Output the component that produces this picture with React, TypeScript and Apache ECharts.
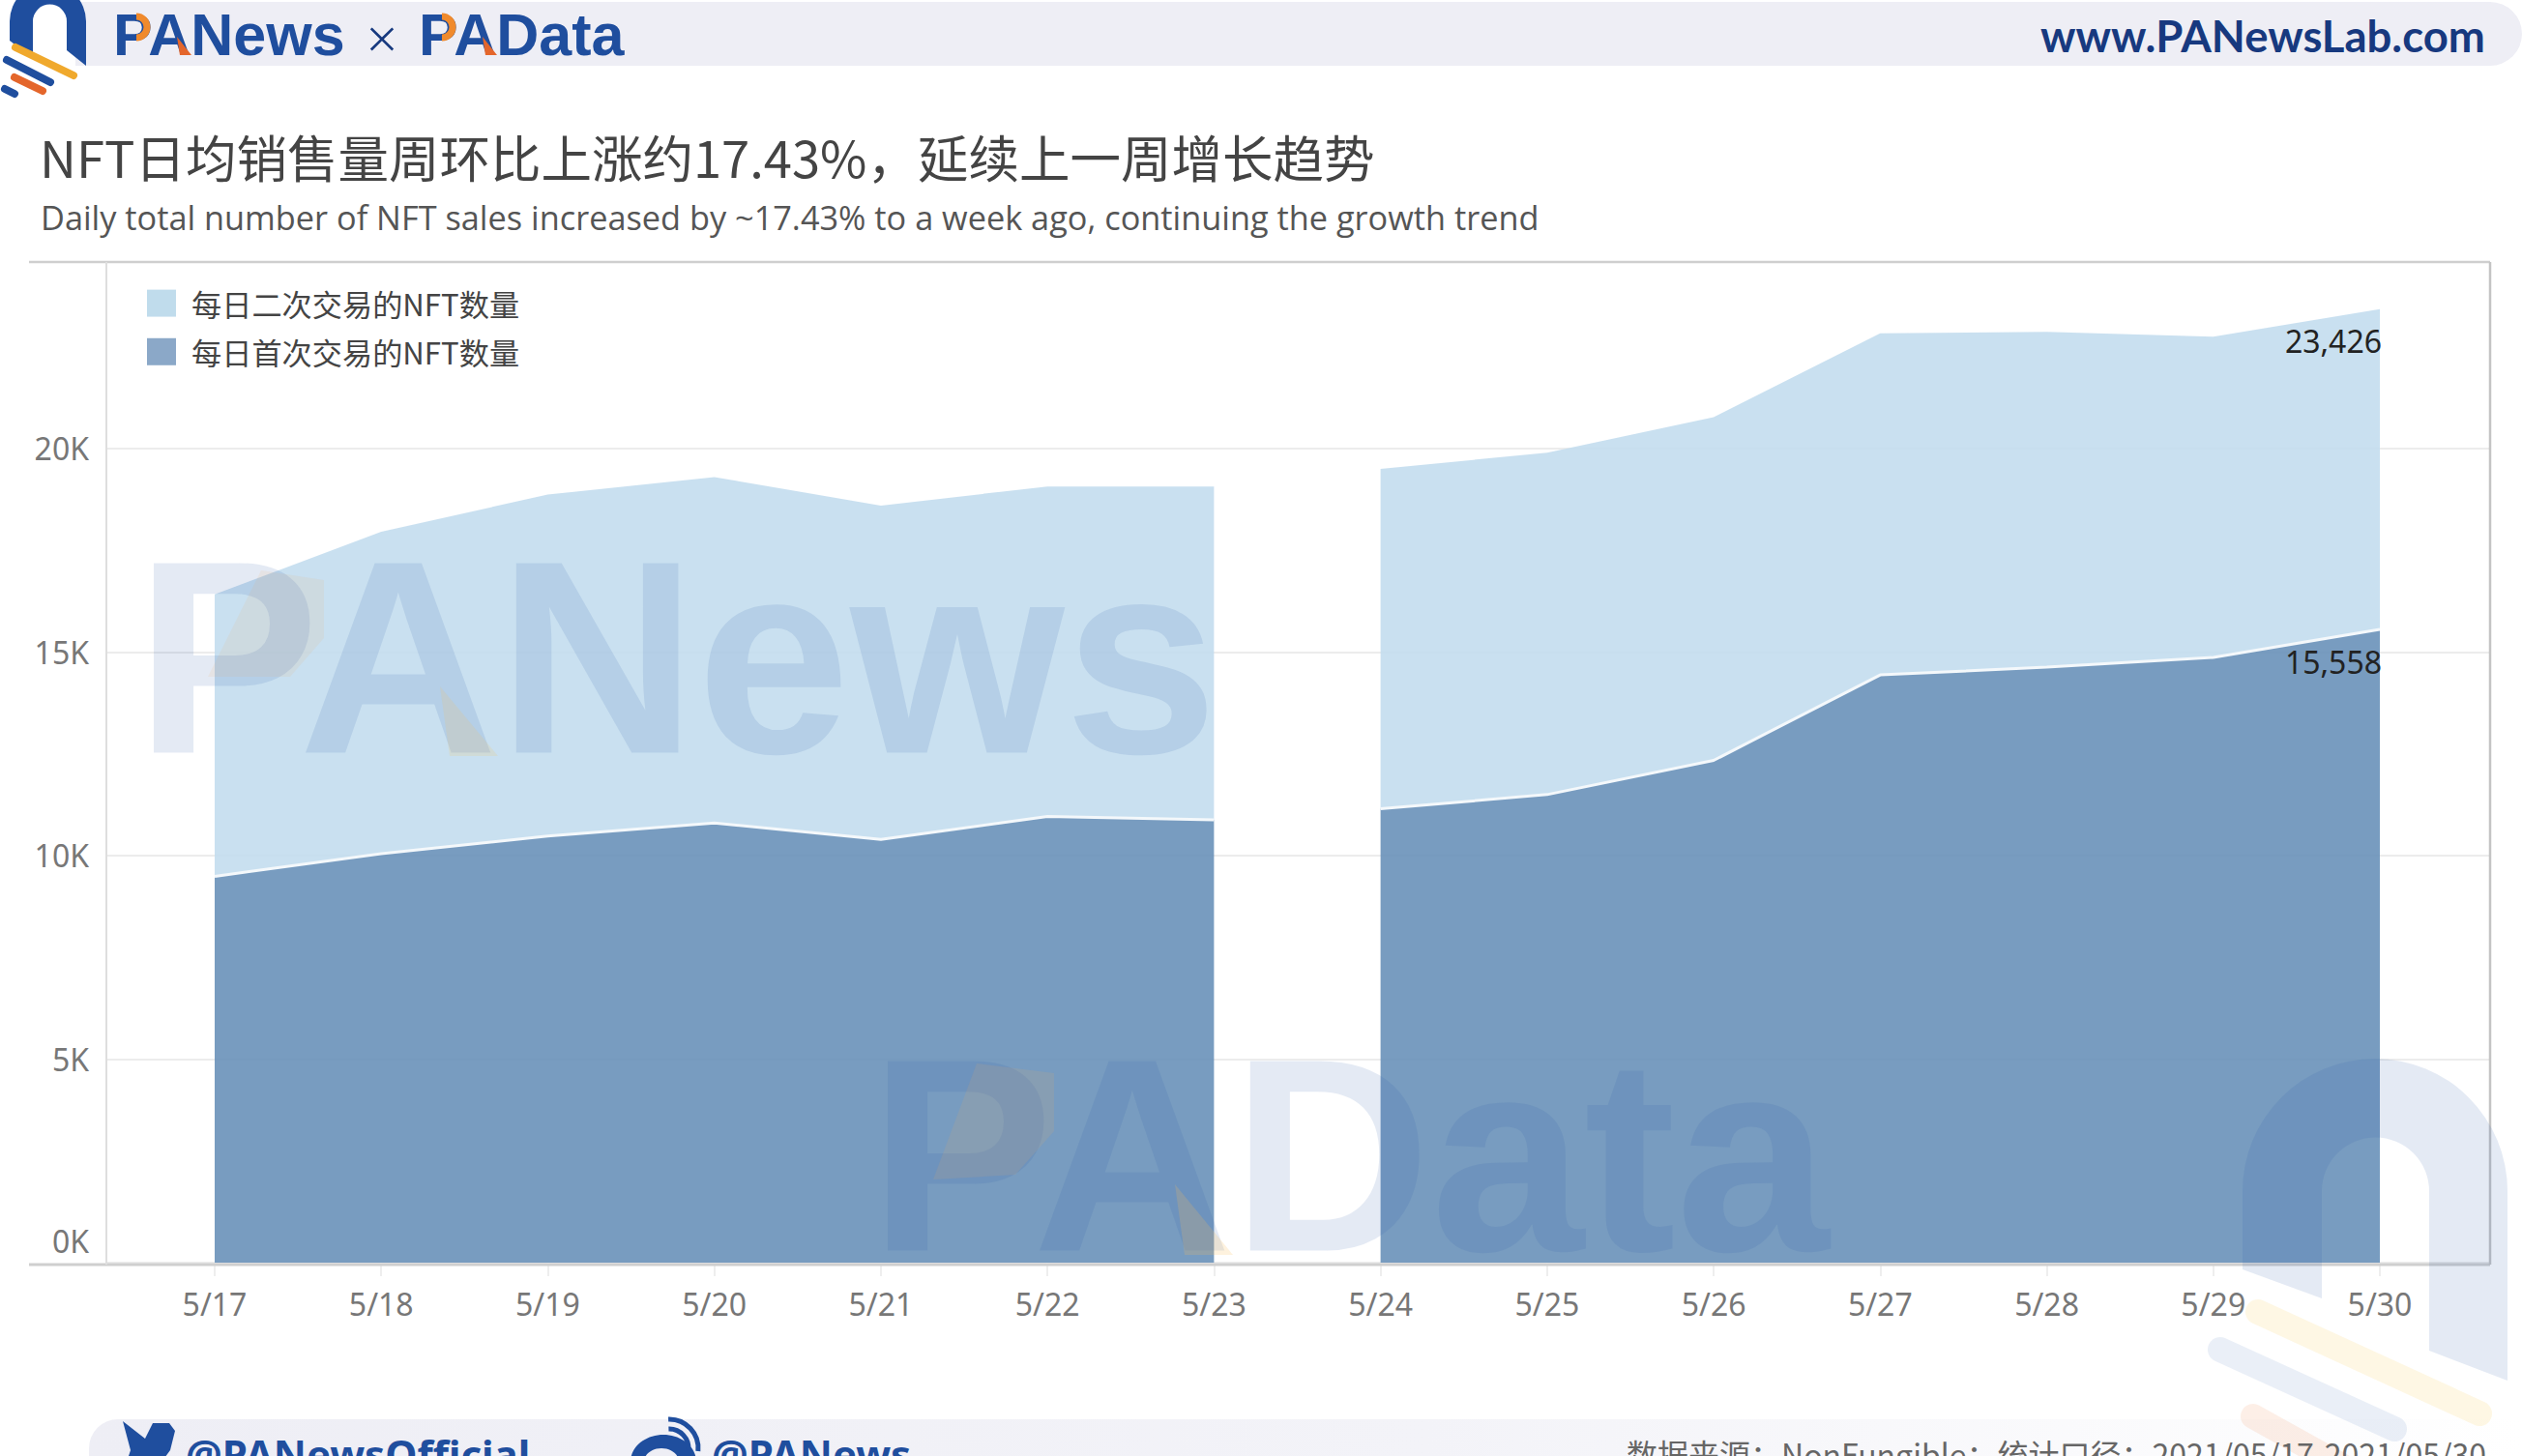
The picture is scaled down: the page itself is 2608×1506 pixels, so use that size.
import React, { useEffect, useRef } from "react";
import * as echarts from "echarts";

const categories = ["5/17","5/18","5/19","5/20","5/21","5/22","5/23","5/24","5/25","5/26","5/27","5/28","5/29","5/30"];
const firstSales = [9490,10050,10480,10800,10400,10960,10880,11150,11500,12340,14440,14630,14870,15558];
const secondSales = [6930,7910,8390,8500,8200,8110,8190,8350,8400,8430,8390,8240,7880,7868];
const yTicks = [0,5000,10000,15000,20000];
const weekOne = [0,1,2,3,4,5,6];
const weekTwo = [7,8,9,10,11,12,13];
const secondName = "每日二次交易的NFT数量";
const firstName = "每日首次交易的NFT数量";
const titleText = "NFT日均销售量周环比上涨约17.43%，延续上一周增长趋势";
const subtitleText = "Daily total number of NFT sales increased by ~17.43% to a week ago, continuing the growth trend";
const sourceText = "数据来源：NonFungible；统计口径：2021/05/17-2021/05/30";

const CJK = '"Noto Sans CJK SC", "Noto Sans", sans-serif';
const SANS = '"Noto Sans", "Noto Sans CJK SC", sans-serif';
const BRAND = "#1f4e9e";
const WM = "rgba(50,90,170,0.13)";
const Y_MAX = 24608;

echarts.graphic.registerShape("archSmall", echarts.graphic.extendShape({
  buildPath(ctx: any) {
    ctx.moveTo(10, 42);
    ctx.lineTo(10, 22);
    ctx.arc(49.5, 22, 39.5, Math.PI, 0, false);
    ctx.lineTo(89, 68);
    ctx.lineTo(69, 52);
    ctx.lineTo(69, 22);
    ctx.arc(51.5, 22, 17.5, 0, Math.PI, true);
    ctx.lineTo(34, 60);
    ctx.closePath();
  },
} as any) as any);

echarts.graphic.registerShape("archBig", echarts.graphic.extendShape({
  buildPath(ctx: any) {
    ctx.moveTo(2319, 1313);
    ctx.lineTo(2319, 1232);
    ctx.arc(2456, 1232, 137, Math.PI, 0, false);
    ctx.lineTo(2593, 1428);
    ctx.lineTo(2512, 1397);
    ctx.lineTo(2512, 1232);
    ctx.arc(2456.5, 1232, 55.5, 0, Math.PI, true);
    ctx.lineTo(2401, 1343);
    ctx.closePath();
  },
} as any) as any);

function stripe(x1: number, y1: number, x2: number, y2: number, w: number, color: string, z = 100) {
  return { type: "line", z, silent: true, shape: { x1, y1, x2, y2 }, style: { stroke: color, lineWidth: w, lineCap: "round" } };
}
function poly(points: number[][], fill: string, z = 101) {
  return { type: "polygon", z, silent: true, shape: { points }, style: { fill } };
}
function text(x: number, y: number, t: string, font: string, fill: string, extra: any = {}) {
  return { type: "text", z: 110, x, y, style: { text: t, font, fill, textVerticalAlign: "middle", ...extra } };
}

function weekSeries(name: string, days: number[], values: number[], color: string, stack: string, extra: any) {
  return {
    type: "line",
    name,
    stack,
    xAxisIndex: 1,
    yAxisIndex: 1,
    symbol: "none",
    showSymbol: false,
    silent: true,
    data: categories.map((_, i) => (days.includes(i) ? values[i] : null)),
    areaStyle: { color, opacity: 0.9 },
    ...extra,
  };
}

const first = "#6991b9";
const second = "#c3ddee";
const noLine = { lineStyle: { width: 0, opacity: 0 } };
const whiteLine = { lineStyle: { width: 3, color: "#f4f8fb" } };
const labelStyle = { color: "#222", fontFamily: SANS, fontSize: 32, align: "right", distance: 0 };

export default function App() {
  const ref = useRef<HTMLDivElement>(null);
  useEffect(() => {
    document.body.style.margin = "0";
    const chart = echarts.init(ref.current!, undefined, { renderer: "svg" });
    const last = categories.length - 1;
    chart.setOption({
      animation: false,
      backgroundColor: "#fff",
      title: [
        { text: titleText, left: 36, top: 130, textStyle: { fontFamily: CJK, fontSize: 52.5, fontWeight: 400, color: "#444" } },
        { text: subtitleText, left: 37, top: 202, textStyle: { fontFamily: '"Open Sans", sans-serif', fontSize: 34.3, fontWeight: 400, color: "#555" } },
      ],
      legend: {
        left: 147, top: 293, orient: "vertical", icon: "rect", itemWidth: 30, itemHeight: 28, itemGap: 19,
        selectedMode: false,
        textStyle: { fontFamily: CJK, fontSize: 31.2, color: "#444", padding: [0, 0, 0, 11] },
        data: [
          { name: secondName, itemStyle: { color: "#c0dcec" } },
          { name: firstName, itemStyle: { color: "#8ba8c8" } },
        ],
      },
      grid: [
        { left: 110, top: 270, width: 2465, height: 1036 },
        { left: 222, top: 270, width: 2239, height: 1036 },
      ],
      xAxis: [
        { gridIndex: 0, type: "value", min: 0, max: 1, show: false },
        {
          gridIndex: 1,
          type: "category",
          boundaryGap: false,
          data: categories,
          splitLine: { show: false },
          axisLine: { show: false },
          axisTick: { show: true, interval: 0, length: 14, lineStyle: { color: "#eeeeee", width: 2 } },
          axisLabel: { interval: 0, margin: 26, fontFamily: SANS, fontSize: 32, color: "#777" },
        },
      ],
      yAxis: [
        {
          gridIndex: 0,
          type: "value",
          min: 0,
          max: Y_MAX,
          axisLine: { show: false },
          axisTick: { show: false, customValues: yTicks },
          axisLabel: {
            customValues: yTicks,
            formatter: (v: number) => `${v / 1000}K`,
            margin: 18,
            fontFamily: SANS,
            fontSize: 32,
            lineHeight: 46,
            color: "#777",
            verticalAlignMinLabel: "bottom",
          },
          splitLine: { show: true, lineStyle: { color: "#ececec", width: 2 } },
        },
        { gridIndex: 1, type: "value", min: 0, max: Y_MAX, show: false, splitLine: { show: false } },
      ],
      series: [
        weekSeries(firstName, weekOne, firstSales, first, "w1", whiteLine),
        weekSeries(secondName, weekOne, secondSales, second, "w1", noLine),
        weekSeries(firstName, weekTwo, firstSales, first, "w2", {
          ...whiteLine,
          endLabel: { show: true, ...labelStyle, offset: [2, 33], formatter: () => firstSales[last].toLocaleString("en-US") },
        }),
        weekSeries(secondName, weekTwo, secondSales, second, "w2", {
          ...noLine,
          endLabel: { show: true, ...labelStyle, offset: [2, 33], formatter: () => (firstSales[last] + secondSales[last]).toLocaleString("en-US") },
        }),
      ],
      graphic: [
        // frame
        { type: "line", z: 50, shape: { x1: 30, y1: 271, x2: 2575, y2: 271 }, style: { stroke: "#cfcfcf", lineWidth: 2.5 } },
        { type: "line", z: 50, shape: { x1: 30, y1: 1308, x2: 2575, y2: 1308 }, style: { stroke: "#cfcfcf", lineWidth: 3 } },
        { type: "line", z: 50, shape: { x1: 110, y1: 271, x2: 110, y2: 1308 }, style: { stroke: "#dedede", lineWidth: 2 } },
        { type: "line", z: 50, shape: { x1: 2575, y1: 271, x2: 2575, y2: 1308 }, style: { stroke: "#c4c4c4", lineWidth: 2.5 } },

        // watermarks
        { type: "text", z: 100, silent: true, x: 140, y: 822, style: { text: "PANews", font: 'bold 285px "Liberation Sans", sans-serif', fill: WM, textVerticalAlign: "bottom" } },
        { type: "text", z: 100, silent: true, x: 899, y: 1337, style: { text: "PAData", font: 'bold 285px "Liberation Sans", sans-serif', fill: WM, textVerticalAlign: "bottom" } },
        poly([[270, 590], [335, 600], [335, 660], [300, 700], [215, 700]], "rgba(250,170,90,0.10)"),
        poly([[455, 710], [515, 782], [465, 782]], "rgba(250,190,90,0.16)"),
        poly([[1010, 1100], [1090, 1110], [1090, 1170], [1050, 1215], [965, 1220]], "rgba(250,170,90,0.12)"),
        poly([[1215, 1225], [1275, 1298], [1225, 1298]], "rgba(250,190,90,0.2)"),
        { type: "archBig", z: 100, silent: true, style: { fill: WM } },
        stripe(2335, 1357, 2564, 1462, 26, "rgba(250,215,120,0.2)"),
        stripe(2296, 1396, 2476, 1478, 26, "rgba(80,120,190,0.12)"),
        stripe(2330, 1465, 2420, 1515, 26, "rgba(240,130,70,0.13)"),

        // header
        { type: "rect", z: 90, shape: { x: 78, y: 2, width: 2530, height: 66, r: [0, 33, 33, 0] }, style: { fill: "#eeeef5" } },
        { type: "archSmall", z: 105, style: { fill: BRAND } },
        stripe(16, 49, 76, 78, 8, "#f0a92d", 106),
        stripe(7, 62, 52, 85, 8, BRAND, 106),
        stripe(15, 80, 44, 94, 8, "#e4662b", 106),
        stripe(5, 92, 15, 97, 8, BRAND, 106),
        text(117, 36, "PANews", 'bold 61px "Liberation Sans", sans-serif', BRAND),
        text(379, 38, "×", '300 56px "Noto Sans", sans-serif', "#17397f"),
        text(433, 36, "PAData", 'bold 61px "Liberation Sans", sans-serif', BRAND),
        { type: "arc", z: 111, shape: { cx: 141, cy: 28, r: 11, startAngle: -1.57, endAngle: 1.57 }, style: { stroke: "#f08a2c", fill: "none", lineWidth: 7 } },
        poly([[183, 38], [198, 57], [186, 57]], "#e4662b", 111),
        { type: "arc", z: 111, shape: { cx: 457, cy: 28, r: 11, startAngle: -1.57, endAngle: 1.57 }, style: { stroke: "#f08a2c", fill: "none", lineWidth: 7 } },
        poly([[499, 38], [514, 57], [502, 57]], "#e4662b", 111),
        text(2110, 36, "www.PANewsLab.com", 'bold 45.5px "Lato", sans-serif', "#17397f"),

        // footer
        {
          type: "rect", z: 90,
          shape: { x: 92, y: 1468, width: 2516, height: 60, r: [30, 0, 0, 0] },
          style: { fill: new echarts.graphic.LinearGradient(0, 0, 1, 0, [
            { offset: 0, color: "#eeeef5" }, { offset: 0.55, color: "#f3f3f8" }, { offset: 1, color: "#ffffff" },
          ]) },
        },
        poly([[127, 1470], [150, 1488], [158, 1472], [175, 1472], [181, 1480], [176, 1500], [165, 1515], [130, 1515], [135, 1500]], BRAND, 105),
        text(192, 1503, "@PANewsOfficial", 'bold 42px "Noto Sans", sans-serif', BRAND),
        { type: "ellipse", z: 105, shape: { cx: 686, cy: 1512, rx: 34, ry: 28 }, style: { fill: BRAND } },
        { type: "ellipse", z: 106, shape: { cx: 684, cy: 1512, rx: 18, ry: 14 }, style: { fill: "#eeeef5" } },
        { type: "arc", z: 105, shape: { cx: 692, cy: 1498, r: 20, startAngle: -1.6, endAngle: 0.1 }, style: { stroke: BRAND, fill: "none", lineWidth: 5 } },
        { type: "arc", z: 105, shape: { cx: 692, cy: 1498, r: 30, startAngle: -1.6, endAngle: 0.1 }, style: { stroke: BRAND, fill: "none", lineWidth: 5 } },
        text(736, 1503, "@PANews", 'bold 42px "Noto Sans", sans-serif', BRAND),
        text(1682, 1503, sourceText, `32px ${CJK}`, "#666"),
      ],
    });
    return () => chart.dispose();
  }, []);
  return <div ref={ref} style={{ position: "absolute", left: 0, top: 0, width: 2608, height: 1506, overflow: "hidden" }} />;
}
